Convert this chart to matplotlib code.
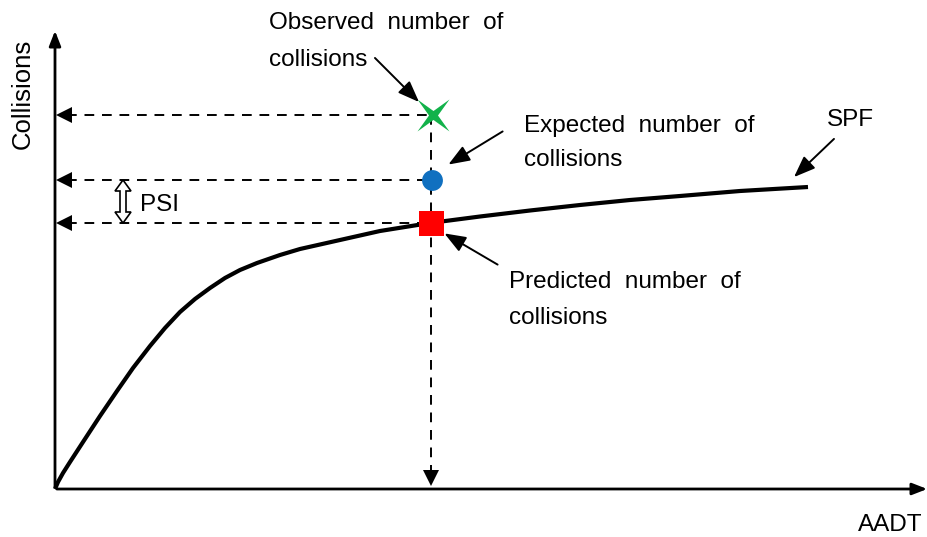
import matplotlib.pyplot as plt
from matplotlib.patches import Polygon
from matplotlib.path import Path

plt.rcParams['font.family'] = ['Liberation Sans', 'DejaVu Sans']

# SPF curve, in picture coordinates (pixels, y downwards)
spf_x = [55, 58, 63, 70, 83, 100, 117, 133, 150, 165, 180, 195, 210, 225, 240, 257,
         280, 300, 340, 380, 430, 480, 530, 580, 630, 680, 740, 808]
spf_y = [489, 482, 473, 462, 442, 416, 391, 368, 346, 328, 312, 299, 288, 278, 270, 263,
         255, 249, 240, 231, 223, 216.5, 210.5, 205, 200, 196, 191, 187]

# site position and the three collision levels
site_x = 431
observed_y = 115
expected_y = 180
predicted_y = 223

origin = (55, 489)
x_end = 930
y_end = 28

label_lines = {
    'observed': ['Observed  number  of', 'collisions'],
    'expected': ['Expected  number  of', 'collisions'],
    'predicted': ['Predicted  number  of', 'collisions'],
}

fig = plt.figure(figsize=(9.28, 5.37), dpi=100)
ax = fig.add_axes([0, 0, 1, 1])
ax.set_xlim(0, 928)
ax.set_ylim(537, 0)
ax.axis('off')

# axes with arrows
ax.annotate('', xy=(x_end, origin[1]), xytext=(origin[0] - 1, origin[1]), annotation_clip=False,
            arrowprops=dict(arrowstyle='-|>,head_length=0.9,head_width=0.35', color='black', lw=2))
ax.annotate('', xy=(origin[0], y_end), xytext=(origin[0], origin[1] + 1), annotation_clip=False,
            arrowprops=dict(arrowstyle='-|>,head_length=0.9,head_width=0.35', color='black', lw=2))

# SPF curve
ax.plot(spf_x, spf_y, color='black', lw=3, solid_capstyle='butt', solid_joinstyle='round')

# dashed guide lines to the y axis
for yv in [observed_y, expected_y, predicted_y]:
    ax.plot([origin[0] + 12, site_x], [yv, yv], color='black', lw=1.4, ls=(0, (5, 4)))
    ax.plot(origin[0] + 9, yv, marker='<', color='black', ms=11, mew=0)

# vertical dashed line down to the x axis
ax.plot([site_x, site_x], [observed_y, origin[1] - 14], color='black', lw=1.4, ls=(0, (5, 4)))
ax.plot(site_x, origin[1] - 11, marker='v', color='black', ms=11, mew=0)

# four point star marker with thin points
r_in = 0.28
star = Path([(1, 1), (r_in, 0), (1, -1), (0, -r_in), (-1, -1), (-r_in, 0),
             (-1, 1), (0, r_in), (1, 1)], closed=True)
ax.plot(site_x + 2, observed_y, marker=star, color='#12b24a', ms=23, mew=0)
ax.plot(site_x + 1, expected_y, marker='o', color='#1070c0', ms=15, mew=0)
ax.plot(site_x, predicted_y, marker='s', color='#ff0000', ms=18, mew=0)

# PSI hollow double arrow
px = 123
hw, hl, sw = 8, 11, 3
psi_shape = [(px, expected_y), (px + hw, expected_y + hl), (px + sw, expected_y + hl),
             (px + sw, predicted_y - hl), (px + hw, predicted_y - hl), (px, predicted_y),
             (px - hw, predicted_y - hl), (px - sw, predicted_y - hl),
             (px - sw, expected_y + hl), (px - hw, expected_y + hl)]
ax.add_patch(Polygon(psi_shape, closed=True, fc='white', ec='black', lw=1.2, zorder=3))
ax.text(140, 205, 'PSI', fontsize=17.5, va='center', ha='left')

# text labels with arrows
fs = 17.5
arrow_kw = dict(arrowstyle='-|>,head_length=1.3,head_width=0.5', color='black', lw=1.4)

for line, yv in zip(label_lines['observed'], [23, 60]):
    ax.text(269, yv, line, fontsize=fs, va='center', ha='left')
ax.annotate('', xy=(421, 104), xytext=(373, 56), arrowprops=arrow_kw)

for line, yv in zip(label_lines['expected'], [126, 160]):
    ax.text(524, yv, line, fontsize=fs, va='center', ha='left')
ax.annotate('', xy=(446, 166), xytext=(505, 130), arrowprops=arrow_kw)

for line, yv in zip(label_lines['predicted'], [282, 318]):
    ax.text(509, yv, line, fontsize=fs, va='center', ha='left')
ax.annotate('', xy=(442, 232), xytext=(500, 266), arrowprops=arrow_kw)

ax.text(827, 120, 'SPF', fontsize=fs, va='center', ha='left')
ax.annotate('', xy=(792, 179), xytext=(836, 137), arrowprops=arrow_kw)

ax.text(23, 94, 'Collisions', fontsize=18.5, va='center', ha='center', rotation=90)
ax.text(858, 525, 'AADT', fontsize=fs, va='center', ha='left')

plt.savefig('out.png', dpi=100)
